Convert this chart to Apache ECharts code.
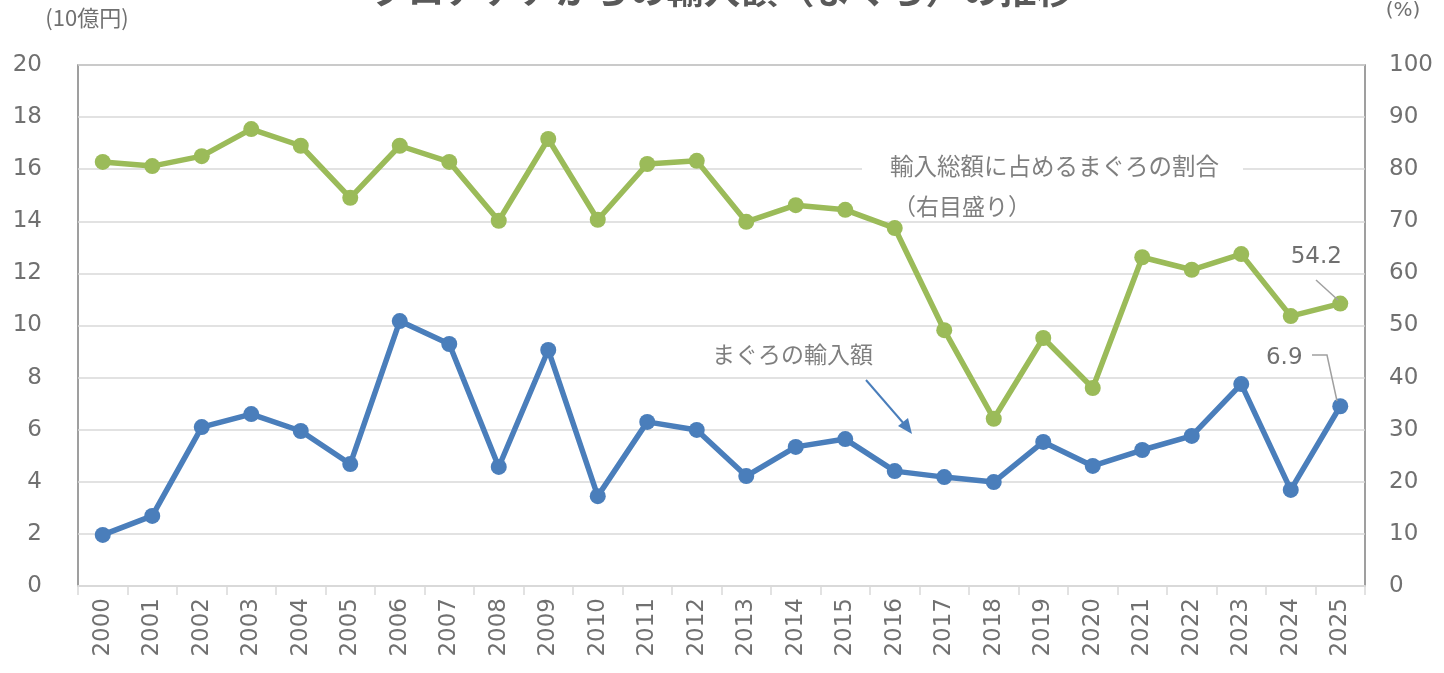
<!DOCTYPE html>
<html><head><meta charset="utf-8">
<script src="https://cdn.jsdelivr.net/npm/echarts@6/dist/echarts.min.js"></script>
<style>html,body{margin:0;padding:0;background:#fff}#c{width:1444px;height:673px}</style>
</head><body><div id="c"></div>
<script>
const titleText = 'クロアチアからの輸入額（まぐろ）の推移';
const years = ['2000','2001','2002','2003','2004','2005','2006','2007','2008','2009','2010','2011','2012','2013','2014','2015','2016','2017','2018','2019','2020','2021','2022','2023','2024','2025'];
const tunaImports = [1.96,2.69,6.1,6.6,5.95,4.68,10.17,9.29,4.57,9.06,3.45,6.3,5.99,4.22,5.34,5.64,4.41,4.18,3.99,5.53,4.61,5.22,5.76,7.75,3.69,6.9];
const tunaShare = [81.4,80.6,82.5,87.7,84.5,74.5,84.5,81.4,70.1,85.8,70.3,81.0,81.6,69.9,73.1,72.2,68.7,49.1,32.1,47.6,38.0,63.1,60.7,63.7,51.8,54.2];
const leftTicks = {min:0,max:20,interval:2};
const rightTicks = {min:0,max:100,interval:10};

const numFont = 'DejaVu Sans';
const jpFont = 'Noto Sans CJK JP';
const gray = '#707070';

function withLastLabel(arr, label){
  return arr.map((v,i)=> i===arr.length-1 ? {value:v, label:label} : v);
}

const chart = echarts.init(document.getElementById('c'), null, {renderer:'canvas'});
chart.setOption({
  animation:false,
  title:{text:titleText, left:'center', top:-34, textStyle:{fontFamily:jpFont, fontSize:37, fontWeight:'bold', color:'#595959'}},
  grid:{left:78, right:79, top:65, bottom:87, show:true, borderColor:'#808080', borderWidth:1.5, backgroundColor:'transparent'},
  xAxis:{type:'category', data:years, boundaryGap:true,
    axisLine:{lineStyle:{color:'#d9d9d9', width:2}},
    axisTick:{show:true, length:9, lineStyle:{color:'#d9d9d9', width:1.5}},
    axisLabel:{rotate:90, fontFamily:numFont, fontSize:23, color:gray, margin:12}},
  yAxis:[
    {type:'value', min:leftTicks.min, max:leftTicks.max, interval:leftTicks.interval, position:'left',
      name:'(10億円)', nameLocation:'end', nameGap:36, nameTextStyle:{fontFamily:jpFont, fontSize:22, color:gray, align:'center', padding:[0,0,0,18]},
      axisLine:{show:false}, axisTick:{show:false},
      axisLabel:{fontFamily:numFont, fontSize:23, color:gray, margin:36},
      splitLine:{lineStyle:{color:'#d9d9d9', width:1.5}}},
    {type:'value', min:rightTicks.min, max:rightTicks.max, interval:rightTicks.interval, position:'right',
      name:'(%)', nameLocation:'end', nameGap:44, nameTextStyle:{fontFamily:numFont, fontSize:20, color:gray, align:'center', padding:[0,0,0,76]},
      axisLine:{show:false}, axisTick:{show:false},
      axisLabel:{fontFamily:numFont, fontSize:23, color:gray, margin:24},
      splitLine:{show:false}}
  ],
  series:[
    {type:'line', name:'まぐろの輸入額', yAxisIndex:0,
      data: withLastLabel(tunaImports,
        {show:true, position:'top', offset:[-56,-24], fontFamily:numFont, fontSize:23, color:gray, formatter:'{c}'}),
      symbol:'circle', symbolSize:16, itemStyle:{color:'#4a7ebb'}, lineStyle:{color:'#4a7ebb', width:5.5}},
    {type:'line', name:'輸入総額に占めるまぐろの割合', yAxisIndex:1,
      data: withLastLabel(tunaShare,
        {show:true, position:'top', offset:[-24,-22], fontFamily:numFont, fontSize:23, color:gray, formatter:'{c}'}),
      symbol:'circle', symbolSize:16, itemStyle:{color:'#9bbb59'}, lineStyle:{color:'#9bbb59', width:5.5}}
  ],
  graphic:[
    {type:'text', left:862, top:150, z:10, style:{text:'輸入総額に占めるまぐろの割合', fontFamily:jpFont, fontSize:23.5, fill:'#7f7f7f', backgroundColor:'#fff', padding:[4,24,4,28]}},
    {type:'text', left:893, top:195, z:10, style:{text:'（右目盛り）', fontFamily:jpFont, fontSize:23, fill:'#7f7f7f'}},
    {type:'text', left:692, top:339, z:10, style:{text:'まぐろの輸入額', fontFamily:jpFont, fontSize:23, fill:'#7f7f7f', backgroundColor:'#fff', padding:[4,26,10,20]}},
    {type:'line', z:10, shape:{x1:866, y1:380, x2:905, y2:425}, style:{stroke:'#4a7ebb', lineWidth:2}},
    {type:'polygon', z:10, shape:{points:[[912,434],[898,426],[908,418]]}, style:{fill:'#4a7ebb'}},
    {type:'polyline', z:10, shape:{points:[[1312,355],[1327,355],[1337,401]]}, style:{stroke:'#a0a0a0', lineWidth:1.5, fill:null}},
    {type:'line', z:10, shape:{x1:1316, y1:280, x2:1338, y2:300}, style:{stroke:'#a0a0a0', lineWidth:1.5}}
  ]
});
</script></body></html>
